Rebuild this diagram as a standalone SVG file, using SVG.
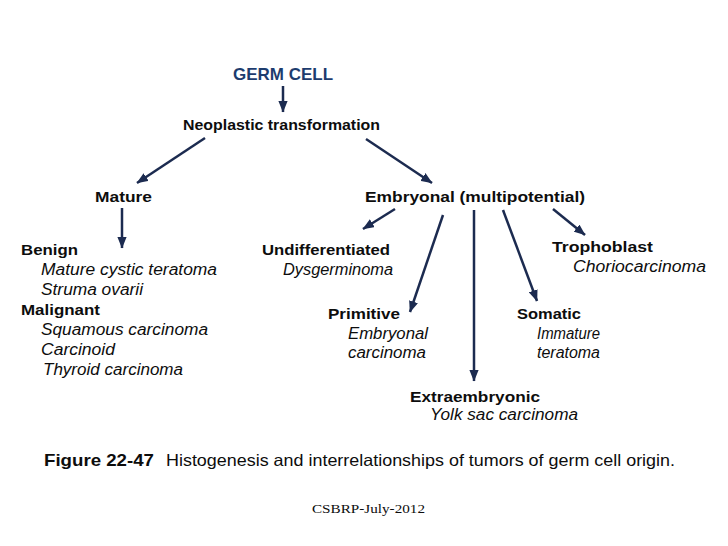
<svg xmlns="http://www.w3.org/2000/svg" width="728" height="546" viewBox="0 0 728 546">
<defs>
<style>
text{font-family:"Liberation Sans",Arial,sans-serif;fill:#0d0d0d;}
.b{font-weight:bold;font-size:15.5px;}
.i{font-style:italic;font-size:16px;}
.t{font-weight:bold;font-size:17px;fill:#1d3c6e;}
.cap{font-size:16.5px;}
.ft{font-family:"Liberation Serif","Times New Roman",serif;font-size:13.5px;}
.c line{stroke:#1c2b50;stroke-width:2.5;fill:none;}
</style>
<marker id="ah" viewBox="0 0 10 8" refX="9.5" refY="4" markerWidth="4.6" markerHeight="3.7" orient="auto" markerUnits="strokeWidth">
<path d="M0,0 L10,4 L0,8 z" fill="#1c2b50"/>
</marker>
</defs>
<rect width="728" height="546" fill="#fff"/>
<g class="c" id="connectors">
<line x1="283" y1="86" x2="283" y2="112" marker-end="url(#ah)"/>
<line x1="205" y1="138" x2="137" y2="183" marker-end="url(#ah)"/>
<line x1="366" y1="139" x2="432" y2="183" marker-end="url(#ah)"/>
<line x1="122" y1="208" x2="122" y2="248" marker-end="url(#ah)"/>
<line x1="395" y1="209" x2="363" y2="229" marker-end="url(#ah)"/>
<line x1="443" y1="215" x2="410" y2="312" marker-end="url(#ah)"/>
<line x1="474" y1="210" x2="474" y2="381" marker-end="url(#ah)"/>
<line x1="503" y1="210" x2="537" y2="301" marker-end="url(#ah)"/>
<line x1="553" y1="209" x2="585" y2="235" marker-end="url(#ah)"/>
</g>
<g id="germcell"><text class="t" x="233" y="80" textLength="100" lengthAdjust="spacingAndGlyphs">GERM CELL</text></g>
<g id="neoplastic"><text class="b" x="183" y="130" textLength="197" lengthAdjust="spacingAndGlyphs">Neoplastic transformation</text></g>
<g id="mature"><text class="b" x="95" y="202" textLength="57" lengthAdjust="spacingAndGlyphs">Mature</text></g>
<g id="embryonal"><text class="b" x="365" y="202" textLength="220" lengthAdjust="spacingAndGlyphs">Embryonal (multipotential)</text></g>
<g id="mature-list">
<text class="b" x="21" y="255" textLength="57" lengthAdjust="spacingAndGlyphs">Benign</text>
<text class="i" x="41" y="275" textLength="176" lengthAdjust="spacingAndGlyphs">Mature cystic teratoma</text>
<text class="i" x="41" y="295" textLength="102" lengthAdjust="spacingAndGlyphs">Struma ovarii</text>
<text class="b" x="21" y="315" textLength="79" lengthAdjust="spacingAndGlyphs">Malignant</text>
<text class="i" x="41" y="335" textLength="167" lengthAdjust="spacingAndGlyphs">Squamous carcinoma</text>
<text class="i" x="41" y="355" textLength="74" lengthAdjust="spacingAndGlyphs">Carcinoid</text>
<text class="i" x="43" y="375" textLength="140" lengthAdjust="spacingAndGlyphs">Thyroid carcinoma</text>
</g>
<g id="undifferentiated">
<text class="b" x="262" y="255" textLength="128" lengthAdjust="spacingAndGlyphs">Undifferentiated</text>
<text class="i" x="283" y="275" textLength="110" lengthAdjust="spacingAndGlyphs">Dysgerminoma</text>
</g>
<g id="trophoblast">
<text class="b" x="552" y="252" textLength="101" lengthAdjust="spacingAndGlyphs">Trophoblast</text>
<text class="i" x="573" y="272" textLength="133" lengthAdjust="spacingAndGlyphs">Choriocarcinoma</text>
</g>
<g id="primitive">
<text class="b" x="328" y="319" textLength="72" lengthAdjust="spacingAndGlyphs">Primitive</text>
<text class="i" x="348" y="339" textLength="80" lengthAdjust="spacingAndGlyphs">Embryonal</text>
<text class="i" x="348" y="358" textLength="78" lengthAdjust="spacingAndGlyphs">carcinoma</text>
</g>
<g id="somatic">
<text class="b" x="517" y="319" textLength="64" lengthAdjust="spacingAndGlyphs">Somatic</text>
<text class="i" x="537" y="339" textLength="63" lengthAdjust="spacingAndGlyphs">Immature</text>
<text class="i" x="537" y="358" textLength="63" lengthAdjust="spacingAndGlyphs">teratoma</text>
</g>
<g id="extraembryonic">
<text class="b" x="410" y="402" textLength="130" lengthAdjust="spacingAndGlyphs">Extraembryonic</text>
<text class="i" x="430" y="420" textLength="148" lengthAdjust="spacingAndGlyphs">Yolk sac carcinoma</text>
</g>
<g id="caption">
<text class="cap" x="44" y="466" font-weight="bold" textLength="110" lengthAdjust="spacingAndGlyphs">Figure 22-47</text>
<text class="cap" x="166" y="466" textLength="509" lengthAdjust="spacingAndGlyphs">Histogenesis and interrelationships of tumors of germ cell origin.</text>
</g>
<g id="footer"><text class="ft" x="312" y="513" textLength="113" lengthAdjust="spacingAndGlyphs">CSBRP-July-2012</text></g>
</svg>
